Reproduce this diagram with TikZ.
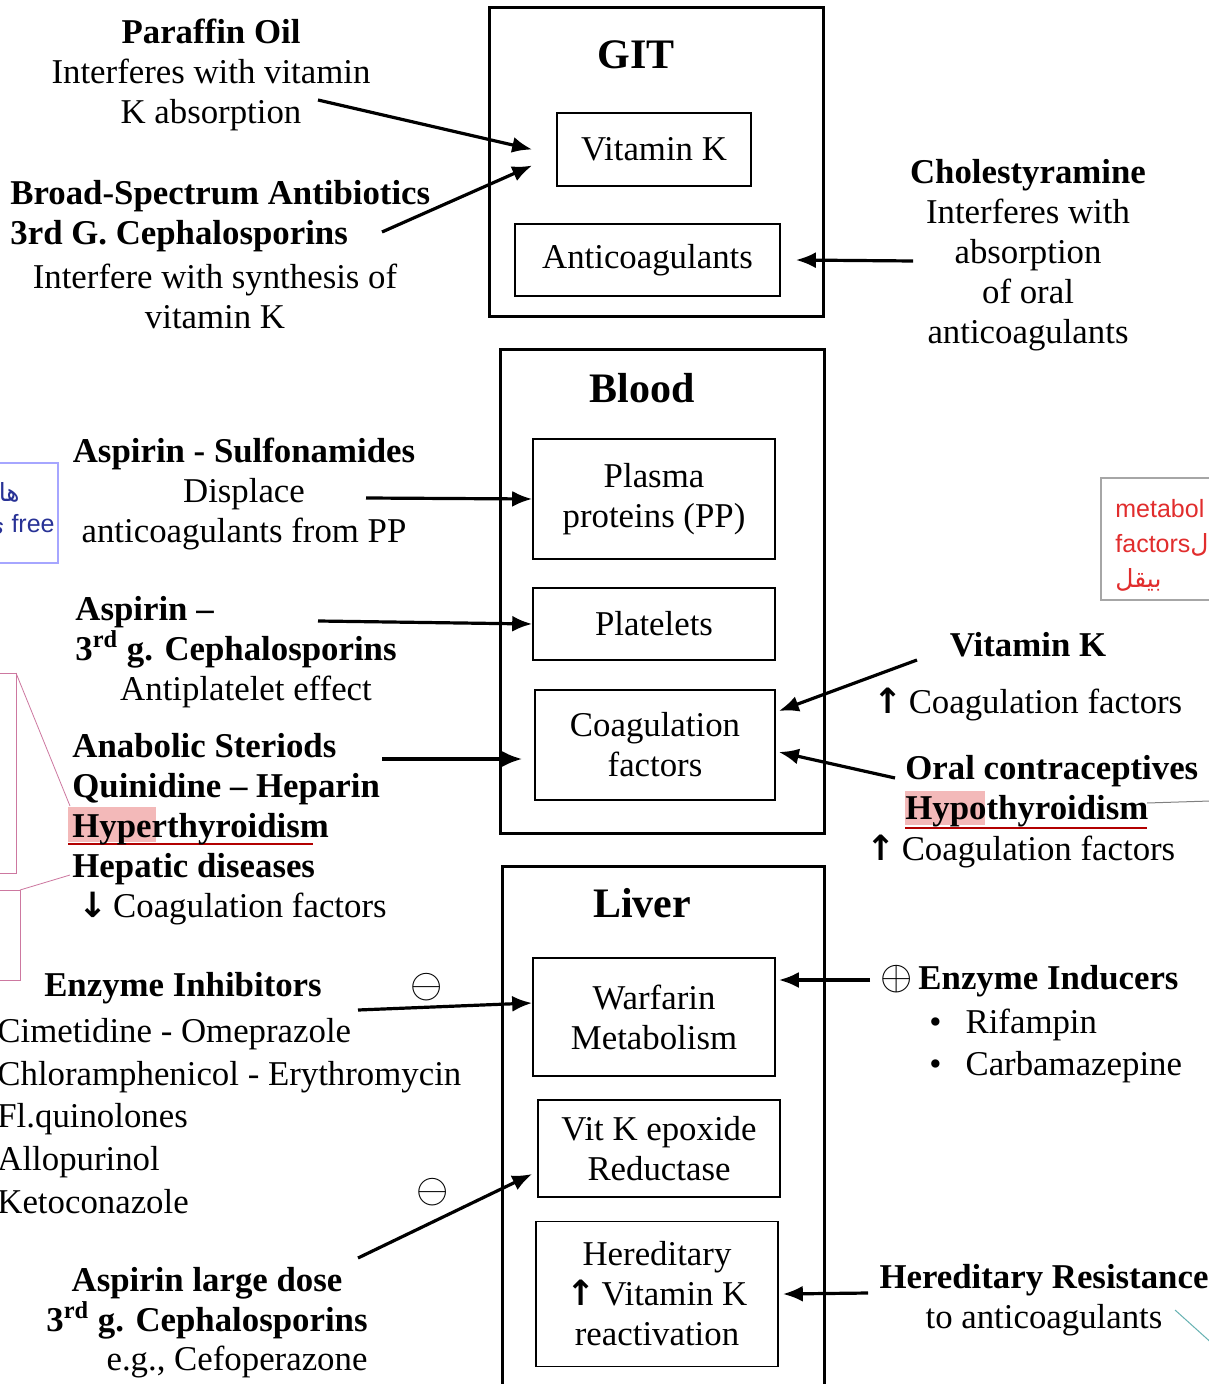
\documentclass[tikz,border=0pt]{standalone}
\usepackage{fontspec}
\setmainfont{Liberation Serif}
\newfontfamily\notefont{Liberation Sans}
\newfontfamily\symfont{DejaVu Sans}
\newfontfamily\arabicfont[Script=Arabic]{DejaVu Sans}
\TeXXeTstate=1
\usetikzlibrary{arrows.meta}
\definecolor{noteblue}{RGB}{40,50,150}
\definecolor{notered}{RGB}{225,45,45}
\definecolor{notepink}{RGB}{205,120,160}
\definecolor{hilite}{RGB}{243,185,185}
\newcommand{\upar}{{\symfont\bfseries ↑}}
\newcommand{\downar}{{\symfont\bfseries ↓}}
\tikzset{
  organ/.style={draw,line width=1.5pt},
  part/.style={draw,line width=0.8pt,align=center,inner sep=0pt},
  organtitle/.style={font=\fontsize{21}{24}\selectfont\bfseries},
  txt/.style={inner sep=0pt,align=center},
  sign/.style={inner sep=0pt,font=\fontsize{22}{24}\selectfont},
  drug/.style={-{Latex[length=10pt,width=8pt]},line width=1.6pt},
  note/.style={inner sep=0pt,font=\notefont\fontsize{12.5}{15}\selectfont},
}
\begin{document}
\begin{tikzpicture}[x=0.5pt,y=-0.5pt,font=\fontsize{17.4}{20}\selectfont]
  \useasboundingbox[fill=white] (0,0) rectangle (1208,1384);

  \node[organ,minimum width=167pt,minimum height=154.5pt] (git) at (656,162.5) {};
  \node[organ,minimum width=162pt,minimum height=241.5pt] (blood) at (662,591.5) {};
  \node[organ,minimum width=161pt,minimum height=272pt] (liver) at (663,1138) {};
  \node[organtitle] (gittitle) at (636,55) {GIT};
  \node[organtitle] (bloodtitle) at (642,388) {Blood};
  \node[organtitle] (livertitle) at (642,903) {Liver};

  \node[part,minimum width=97pt,minimum height=36.5pt] (vitk) at (654,149.5) {Vitamin K};
  \node[part,minimum width=132.5pt,minimum height=36pt] (anticoag) at (647.5,260) {Anticoagulants};
  \node[part,minimum width=121pt,minimum height=60pt] (plasma) at (654,499) {Plasma\\proteins (PP)};
  \node[part,minimum width=121pt,minimum height=36pt] (platelets) at (654,624) {Platelets};
  \node[part,minimum width=120pt,minimum height=55pt] (coag) at (655,745) {Coagulation\\factors};
  \node[part,minimum width=121pt,minimum height=59pt] (warfarin) at (654,1017) {Warfarin\\Metabolism};
  \node[part,minimum width=121pt,minimum height=48.5pt] (epoxide) at (659,1148.5) {Vit K epoxide\\Reductase};
  \node[part,minimum width=121pt,minimum height=72.5pt] (hereditary) at (657,1294) {Hereditary\\\upar\,Vitamin K\\reactivation};

  \fill[hilite] (68,807) rectangle (156,842);
  \draw[red!70!black,line width=0.6pt] (68,844) -- (313,844);
  \fill[hilite] (905,791) rectangle (985,825);
  \draw[red!70!black,line width=0.6pt] (905,828) -- (1147,828);

  \node[txt] (paraffin) at (211,75) {\textbf{Paraffin Oil}\\Interferes with vitamin\\K absorption};
  \node[txt,align=left,anchor=west] (broad) at (10,216) {\textbf{Broad-Spectrum Antibiotics}\\\textbf{3rd G. Cephalosporins}};
  \node[txt] (broadtxt) at (215,296) {Interfere with synthesis of\\vitamin K};
  \node[txt] (cholest) at (1028,255) {\textbf{Cholestyramine}\\Interferes with\\absorption\\of oral\\anticoagulants};
  \node[txt] (sulfa) at (244,494) {\textbf{Aspirin - Sulfonamides}\\Displace\\anticoagulants from PP};
  \node[txt,align=left,anchor=west] (antiplt) at (75,632) {\textbf{Aspirin –}\\\textbf{3\textsuperscript{rd} g. Cephalosporins}};
  \node[txt] (antiplttxt) at (246,692) {Antiplatelet effect};
  \node[txt,align=left,anchor=west] (anabolic) at (72,829) {\textbf{Anabolic Steriods}\\\textbf{Quinidine – Heparin}\\\textbf{Hyperthyroidism}\\\textbf{Hepatic diseases}\\\,\downar\,Coagulation factors};
  \node[txt] (vitkdrug) at (1028,645) {\textbf{Vitamin K}};
  \node[txt] (vitkdrugtxt) at (1028,705) {\upar\,Coagulation factors};
  \node[txt,align=left,anchor=west] (oral) at (905,791) {\textbf{Oral contraceptives}\\\textbf{Hypothyroidism}};
  \node[txt] (oraltxt) at (1021,852) {\upar\,Coagulation factors};
  \node[txt] (inhibitors) at (183,988) {\textbf{Enzyme Inhibitors}};
  \node[txt,align=left,anchor=west,font=\fontsize{17.4}{21.4}\selectfont] (inhlist) at (-3,1116) {Cimetidine - Omeprazole\\Chloramphenicol - Erythromycin\\Fl.quinolones\\Allopurinol\\Ketoconazole};
  \node[sign] (inhsign) at (427,987) {$\ominus$};
  \node[sign] (aspsign) at (433,1192) {$\ominus$};
  \node[txt] (largedose) at (207,1303) {\textbf{Aspirin large dose}\\\textbf{3\textsuperscript{rd} g. Cephalosporins}};
  \node[txt] (cefo) at (237,1362) {e.g., Cefoperazone};
  \node[txt,anchor=west] (inducers) at (880,981) {{\fontsize{21}{24}\selectfont$\oplus$}\,\textbf{Enzyme Inducers}};
  \node[txt,align=left,anchor=west,font=\fontsize{17.4}{21}\selectfont] (indlist) at (929,1046) {•\hspace{12pt}Rifampin\\•\hspace{12pt}Carbamazepine};
  \node[txt] (resist) at (1044,1300) {\textbf{Hereditary Resistance}\\to anticoagulants};

  \coordinate (paraffinend) at (318,100);
  \coordinate (broadend) at (382,232);
  \coordinate (cholestend) at (913,261);
  \coordinate (sulfaend) at (366,498);
  \coordinate (antipltend) at (318,621);
  \coordinate (anabolicend) at (382,759);
  \coordinate (vitkdrugend) at (917,660);
  \coordinate (oralend) at (895,778);
  \coordinate (inhibitorsend) at (358,1010);
  \coordinate (largedoseend) at (358,1258);
  \coordinate (inducersend) at (870,980);
  \coordinate (resistend) at (868,1293);

  \draw[drug] (paraffinend) -- ([xshift=-12pt]vitk.west);
  \draw[drug] (broadend) -- ([xshift=-12pt,yshift=-8pt]vitk.west);
  \draw[drug] (cholestend) -- ([xshift=7.5pt]anticoag.east);
  \draw[drug] (sulfaend) -- (plasma.west);
  \draw[drug] (antipltend) -- (platelets.west);
  \draw[drug] (anabolicend) -- ([xshift=-6pt,yshift=-7pt]coag.west);
  \draw[drug] (vitkdrugend) -- ([xshift=1.5pt,yshift=17pt]coag.east);
  \draw[drug] (oralend) -- ([xshift=1.5pt,yshift=-3.5pt]coag.east);
  \draw[drug] (inhibitorsend) -- ([yshift=7pt]warfarin.west);
  \draw[drug] (largedoseend) -- ([xshift=-2.5pt,yshift=-12.75pt]epoxide.west);
  \draw[drug] (inducersend) -- ([xshift=1.5pt,yshift=18.5pt]warfarin.east);
  \draw[drug] (resistend) -- ([xshift=2pt]hereditary.east);

  \draw[blue!35,line width=0.6pt] (-10,463) rectangle (58,563);
  \node[note,text=noteblue,anchor=east] (freeha) at (20,492) {\arabicfont\beginR ها\endR};
  \node[note,text=noteblue,anchor=east] (freetxt) at (55,527) {{\arabicfont\beginR ي\endR} free};
  \draw[notepink,line width=0.5pt] (-10,673) -- (16,673) -- (16,873) -- (-10,873);
  \draw[notepink,line width=0.5pt] (-10,890) -- (20,890) -- (20,980) -- (-10,980);
  \draw[notepink,line width=0.4pt] (16,673) -- (70,806);
  \draw[notepink,line width=0.4pt] (20,890) -- (70,875);
  \draw[gray!70,line width=0.6pt] (1101,478) rectangle (1230,600);
  \node[note,text=notered,anchor=west] (metabol) at (1115,509) {metabol};
  \node[note,text=notered,anchor=west] (factors) at (1115,545) {factors{\arabicfont ل}};
  \node[note,text=notered,anchor=west] (yaqil) at (1115,580) {\arabicfont\beginR بيقل\endR};
  \draw[gray,line width=0.5pt] (1147,803) -- (1210,801);
  \draw[teal!60,line width=0.5pt] (1175,1310) -- (1215,1346);
\end{tikzpicture}
\end{document}
